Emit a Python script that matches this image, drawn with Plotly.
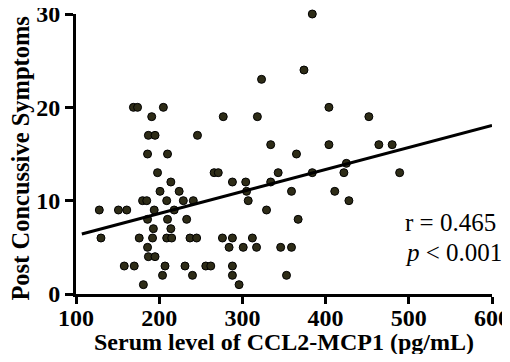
import plotly.graph_objects as go

# Scatter data: serum CCL2-MCP1 level (pg/mL) vs post concussive symptom score
ccl2 = [384,
        374,
        323,
        169, 174, 205, 404,
        191, 277, 318, 452,
        187, 195, 246,
        334, 404, 464, 480,
        186, 210, 365,
        425,
        198, 266, 271, 343, 384, 422, 489,
        214, 288, 304, 334,
        201, 224, 305, 359, 411,
        180, 185, 209, 229, 241, 307, 428,
        128, 151, 161, 194, 218, 329,
        186, 210, 233, 367,
        193, 214,
        130, 176, 192, 209, 215, 237, 245, 276, 288, 312,
        186, 284, 301, 317, 346, 359,
        187, 195,
        158, 170, 207, 231, 256, 262, 288,
        204, 240, 288, 353,
        181, 296]
symptoms = [30,
            24,
            23,
            20, 20, 20, 20,
            19, 19, 19, 19,
            17, 17, 17,
            16, 16, 16, 16,
            15, 15, 15,
            14,
            13, 13, 13, 13, 13, 13, 13,
            12, 12, 12, 12,
            11, 11, 11, 11, 11,
            10, 10, 10, 10, 10, 10, 10,
            9, 9, 9, 9, 9, 9,
            8, 8, 8, 8,
            7, 7,
            6, 6, 6, 6, 6, 6, 6, 6, 6, 6,
            5, 5, 5, 5, 5, 5,
            4, 4,
            3, 3, 3, 3, 3, 3, 3,
            2, 2, 2, 2,
            1, 1]

# Regression line
fit_slope = 0.0236
fit_intercept = 3.90
fit_x = [107, 600]
fit_y = [fit_intercept + fit_slope * v for v in fit_x]

x_ticks = [100, 200, 300, 400, 500, 600]
y_ticks = [0, 10, 20, 30]
stats_r = "r = 0.465"
stats_p = "<i>p</i> &lt; 0.001"

serif = "Times New Roman, Liberation Serif, serif"

fig = go.Figure()
fig.add_trace(go.Scatter(
    x=ccl2, y=symptoms, mode="markers",
    marker=dict(size=8, color="#2e2c17", line=dict(width=1, color="black")),
    cliponaxis=False, showlegend=False))
fig.add_trace(go.Scatter(
    x=fit_x, y=fit_y, mode="lines",
    line=dict(color="black", width=3), showlegend=False))

axis_common = dict(
    showline=True, linewidth=3, linecolor="black",
    ticks="outside", tickwidth=3, tickcolor="black",
    showgrid=False, zeroline=False, automargin=False,
    ticklabeloverflow="allow",
    tickfont=dict(family=serif, size=24, color="black", weight="bold"),
)
fig.update_xaxes(range=[100, 600], tickvals=x_ticks, ticklen=7,
                 ticklabelstandoff=-7, **axis_common)
fig.update_yaxes(range=[0, 30], tickvals=y_ticks, ticklen=8, **axis_common)

fig.add_annotation(text="Post Concussive Symptoms", xref="paper", yref="paper",
                   x=-0.133, y=0.486, textangle=-90, showarrow=False,
                   xanchor="center", yanchor="middle",
                   font=dict(family=serif, size=24.5, color="black", weight="bold"))
fig.add_annotation(text="Serum level of CCL2-MCP1 (pg/mL)", xref="paper", yref="paper",
                   x=0.5, y=-0.171, showarrow=False,
                   xanchor="center", yanchor="middle",
                   font=dict(family=serif, size=24, color="black", weight="bold"))
fig.add_annotation(text=stats_r, xref="x", yref="y", x=493, y=7.7,
                   showarrow=False, xanchor="left", yanchor="middle",
                   font=dict(family=serif, size=25, color="black"))
fig.add_annotation(text=stats_p, xref="x", yref="y", x=493, y=4.5,
                   showarrow=False, xanchor="left", yanchor="middle",
                   font=dict(family=serif, size=25, color="black"))

# The page body adds an 8px margin; size the figure so the page needs no scrollbars
fig.update_layout(
    width=494, height=346,
    margin=dict(l=68, r=10, t=6, b=60),
    plot_bgcolor="white", paper_bgcolor="white",
)

fig.write_html("out.html")
